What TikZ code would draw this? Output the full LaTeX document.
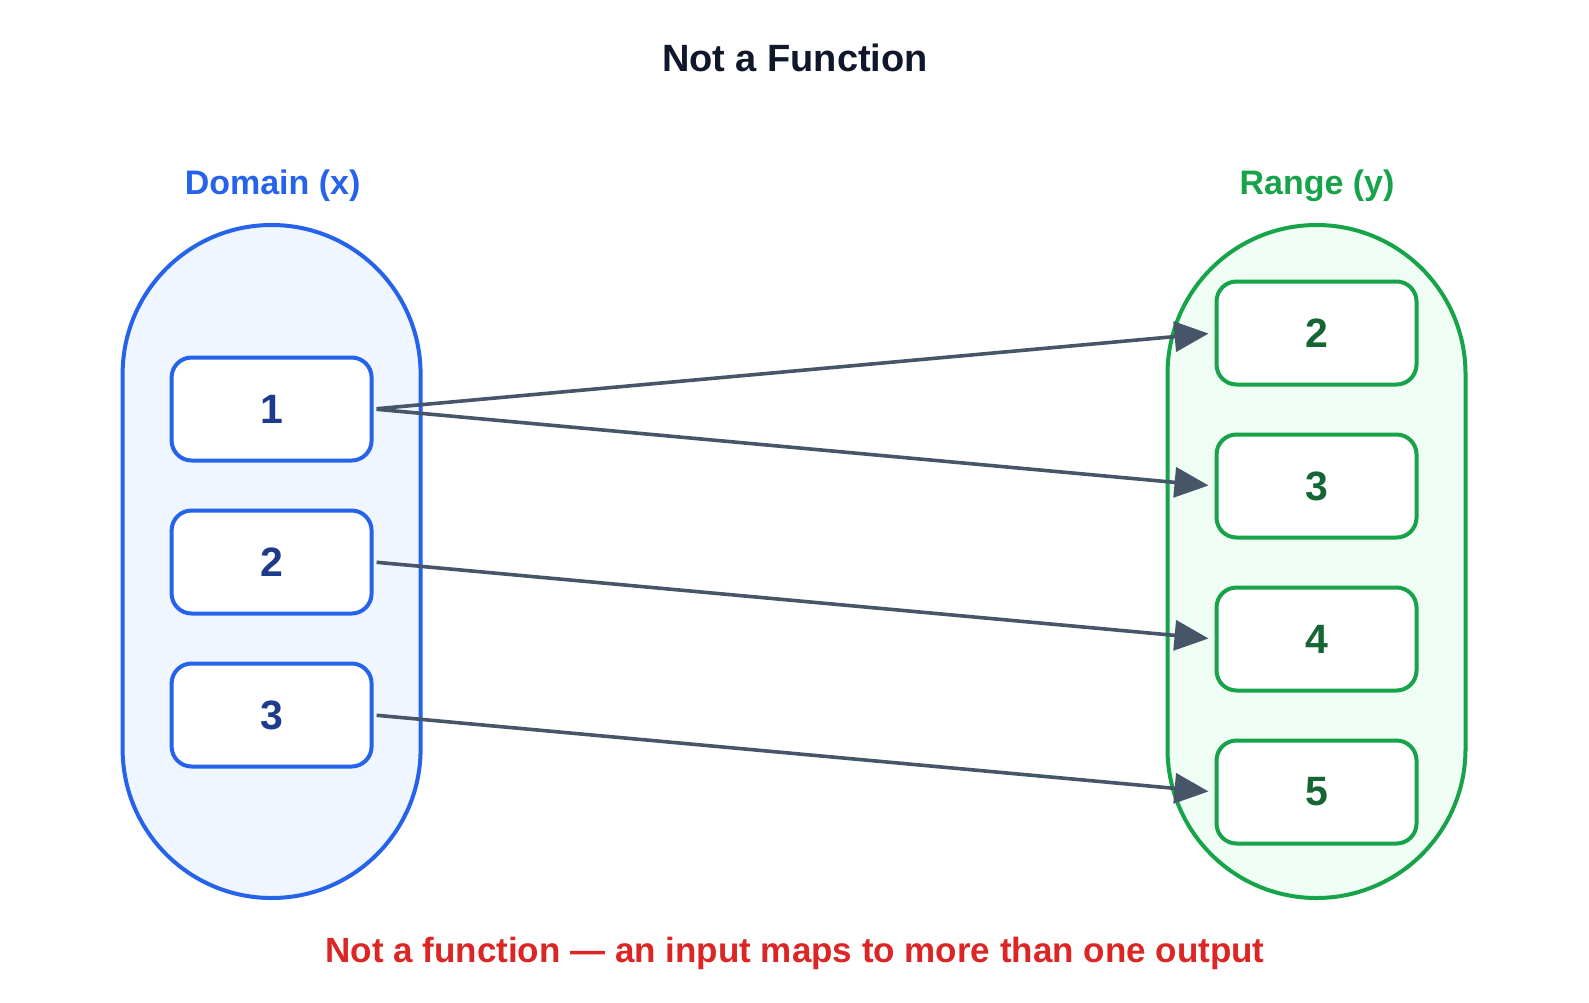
\documentclass[tikz,border=0pt]{standalone}
\usepackage{fontspec}
\setmainfont{Liberation Sans}
\usepackage{xcolor}
\definecolor{cDom}{HTML}{2563EB}
\definecolor{cDomFill}{HTML}{EFF6FF}
\definecolor{cDomText}{HTML}{1E3A8A}
\definecolor{cRng}{HTML}{16A34A}
\definecolor{cRngFill}{HTML}{F0FDF4}
\definecolor{cRngText}{HTML}{166534}
\definecolor{cArrow}{HTML}{475569}
\definecolor{cTitle}{HTML}{0F172A}
\definecolor{cBad}{HTML}{DC2626}
\usetikzlibrary{positioning,arrows.meta}
\tikzset{
  set-box/.style={line width=4pt,rounded corners=149pt,
    minimum width=298pt,minimum height=673pt,inner sep=0pt},
  set-dom/.style={set-box,draw=cDom,fill=cDomFill},
  set-rng/.style={set-box,draw=cRng,fill=cRngFill},
  elem-box/.style={line width=4pt,rounded corners=20pt,fill=white,
    minimum width=200pt,minimum height=103pt,inner sep=0pt,
    font=\fontsize{41}{48}\selectfont\bfseries},
  elem-dom/.style={elem-box,draw=cDom,text=cDomText},
  elem-rng/.style={elem-box,draw=cRng,text=cRngText},
  set-label/.style={font=\fontsize{34}{40}\selectfont\bfseries},
  arrow/.style={-{Triangle[length=34pt,width=30pt]},line width=3.6pt,
    draw=cArrow,shorten <=3pt,shorten >=6pt},
}

\begin{document}
\begin{tikzpicture}[x=1pt,y=-1pt,node distance=46pt]
  \useasboundingbox (0,0) rectangle (1589,1002);
  \node[font=\fontsize{38}{46}\selectfont\bfseries,text=cTitle] (title) at (795,58) {Not a Function};
  % domain
  \node[set-dom] (dom) at (271.6,561.5) {};
  \node[set-label,text=cDom] (domlbl) at (272.6,186) {Domain (x)};
  \node[elem-dom] (x2) at (271.6,562) {2};
  \node[elem-dom,above=of x2] (x1) {1};
  \node[elem-dom,below=of x2] (x3) {3};
  % range
  \node[set-rng] (rng) at (1316.5,561.5) {};
  \node[set-label,text=cRng] (rnglbl) at (1317,186) {Range (y)};
  \node[elem-rng] (y3) at (1316.5,486) {3};
  \node[elem-rng,above=of y3] (y2) {2};
  \node[elem-rng,below=of y3] (y4) {4};
  \node[elem-rng,below=of y4] (y5) {5};
  \draw[arrow] (x1.east) -- (y2.west);
  \draw[arrow] (x1.east) -- (y3.west);
  \draw[arrow] (x2.east) -- (y4.west);
  \draw[arrow] (x3.east) -- (y5.west);
  \node[font=\fontsize{35}{42}\selectfont\bfseries,text=cBad] (note) at (795,953)
    {Not a function --- an input maps to more than one output};
\end{tikzpicture}
\end{document}
